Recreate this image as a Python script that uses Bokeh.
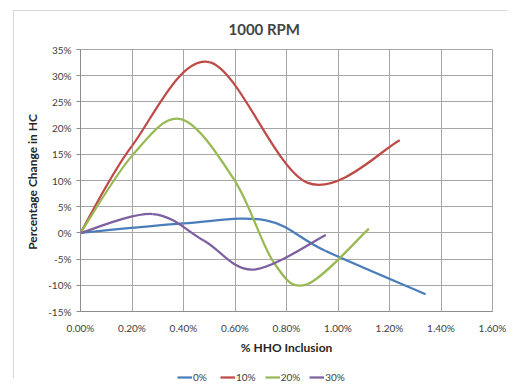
import numpy as np
from bokeh.plotting import figure
from bokeh.layouts import column
from bokeh.models import (Range1d, FixedTicker, PrintfTickFormatter, Legend, LegendItem,
                          ColumnDataSource)
from bokeh.embed import file_html
from bokeh.resources import INLINE

# ---- data ----
series_names = ["0%", "10%", "20%", "30%"]
x_0 = [0.00, 0.40, 0.72, 0.95, 1.34]
hc_0 = [0.0, 1.8, 2.4, -3.4, -11.7]
x_10 = [0.00, 0.20, 0.50, 0.88, 1.24]
hc_10 = [0.0, 16.6, 32.6, 9.6, 17.7]
x_20 = [0.00, 0.20, 0.39, 0.60, 0.75, 0.88, 1.12]
hc_20 = [0.0, 14.7, 21.7, 9.9, -5.6, -9.8, 0.8]
x_30 = [0.00, 0.28, 0.48, 0.67, 0.953]
hc_30 = [0.0, 3.6, -1.5, -7.0, -0.4]
x_ticks = [0.0, 0.2, 0.4, 0.6, 0.8, 1.0, 1.2, 1.4, 1.6]
y_ticks = [-15, -10, -5, 0, 5, 10, 15, 20, 25, 30, 35]

colors = ["#4A7EBB", "#BE4B48", "#98B954", "#7D60A0"]
FONT = "Lato"


def border_css(top):
    return (":host { background-color: white;"
            " background-image: linear-gradient(#D9D9D9, #D9D9D9), linear-gradient(#D9D9D9, #D9D9D9);"
            " background-size: 1px 100%, 100% 1px;"
            f" background-position: 13px {top}px, 13px {top}px;"
            " background-repeat: no-repeat; }")


p = figure(width=507, height=362, output_backend="svg", toolbar_location=None,
           x_range=Range1d(0, 1.6), y_range=Range1d(-15, 35),
           min_border_left=80, min_border_right=15, min_border_top=49, min_border_bottom=51)

p.title.text = "1000 RPM"
p.title.text_font = FONT
p.title.text_font_style = "bold"
p.title.text_font_size = "15px"
p.title.align = "left"
p.title.offset = 148
p.title.standoff = 23

p.outline_line_color = "#A6A6A6"
p.background_fill_color = "white"
p.border_fill_alpha = 0
p.stylesheets = [border_css(10)]

for ax in (p.xaxis[0], p.yaxis[0]):
    ax.axis_line_color = "#8C8C8C"
    ax.major_tick_line_color = "#8C8C8C"
    ax.minor_tick_line_color = None
    ax.major_label_text_font = FONT
    ax.major_label_text_font_size = "10px"
    ax.major_label_text_color = "#404040"
    ax.axis_label_text_font = FONT
    ax.axis_label_text_font_style = "bold"
    ax.axis_label_text_font_size = "12px"
    ax.axis_label_text_color = "#262626"

p.xaxis.ticker = FixedTicker(ticks=x_ticks)
p.yaxis.ticker = FixedTicker(ticks=y_ticks)
p.xaxis.formatter = PrintfTickFormatter(format="%.2f%%")
p.yaxis.formatter = PrintfTickFormatter(format="%d%%")
p.xaxis.axis_label = "% HHO Inclusion"
p.yaxis.axis_label = "Percentage Change in  HC"
p.xaxis.major_tick_out = 0
p.xaxis.major_tick_in = 0
p.yaxis.major_tick_out = 4
p.yaxis.major_tick_in = 0
p.xaxis.major_label_standoff = 10
p.yaxis.major_label_standoff = 5
p.xaxis.axis_label_standoff = 3
p.yaxis.axis_label_standoff = 5

p.xgrid.grid_line_color = "#A6A6A6"
p.ygrid.grid_line_color = "#A6A6A6"


def smooth_segments(xs, ys):
    # Excel-style smoothed line: cubic Bezier per segment through the data points
    P = np.column_stack([xs, ys]).astype(float)
    prev = np.vstack([P[:1], P[:-1]])
    nxt = np.vstack([P[1:], P[-1:]])
    tang = (nxt - prev) / 6.0
    c0 = P[:-1] + tang[:-1]
    c1 = P[1:] - tang[1:]
    return dict(x0=P[:-1, 0], y0=P[:-1, 1], x1=P[1:, 0], y1=P[1:, 1],
                cx0=c0[:, 0], cy0=c0[:, 1], cx1=c1[:, 0], cy1=c1[:, 1])


all_x = [x_0, x_10, x_20, x_30]
all_y = [hc_0, hc_10, hc_20, hc_30]
for name, xs, ys, c in zip(series_names, all_x, all_y, colors):
    src = ColumnDataSource(smooth_segments(xs, ys))
    p.bezier(x0="x0", y0="y0", x1="x1", y1="y1", cx0="cx0", cy0="cy0",
             cx1="cx1", cy1="cy1", source=src, line_color=c, line_width=2.25)

# ---- legend strip under the chart (its ranges keep the series out of view) ----
lg = figure(width=507, height=26, output_backend="svg", toolbar_location=None,
            x_range=Range1d(100, 101), y_range=Range1d(100, 101),
            x_axis_location=None, y_axis_location=None,
            min_border_left=0, min_border_right=0, min_border_top=0, min_border_bottom=0)
lg.grid.visible = False
lg.outline_line_color = None
lg.border_fill_alpha = 0
lg.background_fill_alpha = 0
lg.stylesheets = [border_css(-10)]

items = []
for name, xs, ys, c in zip(series_names, all_x, all_y, colors):
    r = lg.line(x=xs, y=ys, line_color=c, line_width=2.25)
    items.append(LegendItem(label=name, renderers=[r]))

legend = Legend(items=items, orientation="horizontal", location=(97, 5),
                label_text_font=FONT, label_text_font_size="10px", label_text_color="#404040",
                glyph_width=15, glyph_height=12, label_standoff=1, spacing=9, label_width=18,
                padding=0, margin=0, border_line_color=None, background_fill_alpha=0,
                label_height=12)
lg.add_layout(legend, "center")

page = column(p, lg, spacing=0)
open("out.html", "w").write(file_html(page, INLINE))
